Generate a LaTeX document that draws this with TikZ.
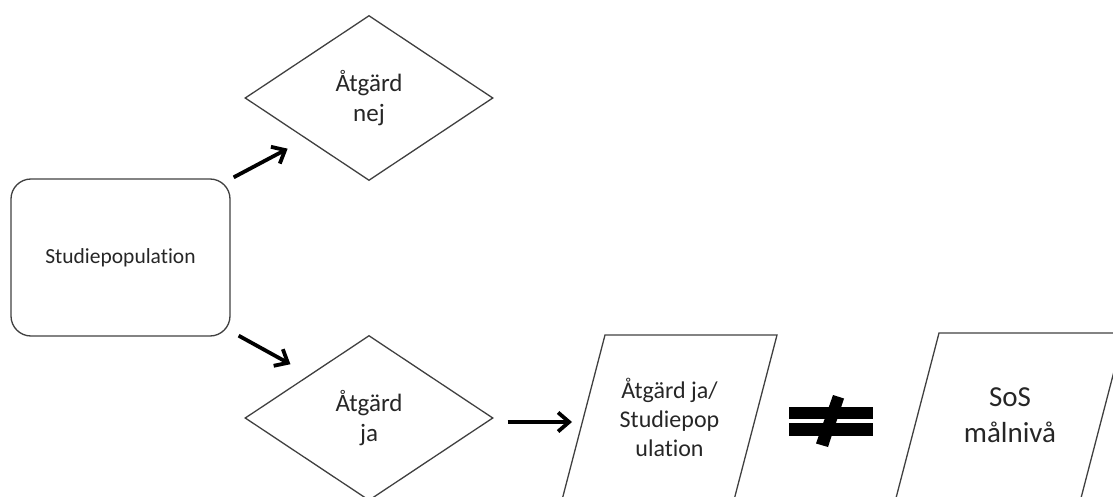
\documentclass[tikz,border=0pt]{standalone}
\usepackage{fontspec}
\setmainfont{Carlito}[Ligatures=NoCommon]
\usetikzlibrary{shapes.geometric,arrows.meta,calc}
\begin{document}
\begin{tikzpicture}[x=1pt,y=-1pt,
  outline/.style={draw=black!75, line width=1.3pt, text=black!85},
  startbox/.style={outline, rectangle, rounded corners=20pt,
    minimum width=219pt, minimum height=157pt, inner sep=0pt,
    font=\fontsize{21.5}{26}\selectfont},
  choice/.style={outline, diamond, minimum width=248pt, minimum height=165pt,
    inner sep=0pt, align=center, font=\fontsize{25}{30.5}\selectfont},
  datatext/.style={text=black!85, inner sep=0pt, align=center},
  databox/.style={draw=black!75, line width=1.3pt, line join=miter},
  arr/.style={line width=3.8pt, -{Straight Barb[length=11pt,width=19pt]}},
  neqbar/.style={fill=black},
]
\useasboundingbox (0,0) rectangle (1113,497);
\clip (0,0) rectangle (1113,497);

% flow shapes
\node[startbox] (pop) at (120.5,257.5) {Studiepopulation};
\node[choice] (nej) at (369,98) {Åtgärd\\nej};
\node[choice] (ja) at (369,418) {Åtgärd\\ja};

% data (parallelogram) shapes: text node plus slanted outline around it
\node[datatext, font=\fontsize{24}{29}\selectfont]
  (kvot) at (669.5,417.5) {Åtgärd ja/\\Studiepop\\ulation};
\draw[databox] ($(kvot.center)+(-64.5,-82.5)$) -- ++(172,0)
  -- ++(-43,165) -- ++(-172,0) -- cycle;
\node[datatext, font=\fontsize{29}{36}\selectfont]
  (mal) at (1010,415.5) {SoS\\målnivå};
\draw[databox] ($(mal.center)+(-71,-82.5)$) -- ++(185,0)
  -- ++(-43,165) -- ++(-185,0) -- cycle;

% connectors
\draw[arr, shorten >=20.6pt] ($(pop.north east)+(3,-1)$) -- (nej.213);
\draw[arr, shorten >=21.6pt] ($(pop.south east)+(8,-1)$) -- (ja.144);
\draw[arr] ($(ja.east)+(14,4)$) -- ($(kvot.center)+(-97.5,4.5)$);

% not-equal sign between the two data shapes
\fill[neqbar] (789,406.7) rectangle (873,419.3);
\fill[neqbar] (789,423.3) rectangle (873,436);
\fill[neqbar] (833,395) -- (844,398.5) -- (828,447) -- (816,443.5) -- cycle;
\end{tikzpicture}
\end{document}
